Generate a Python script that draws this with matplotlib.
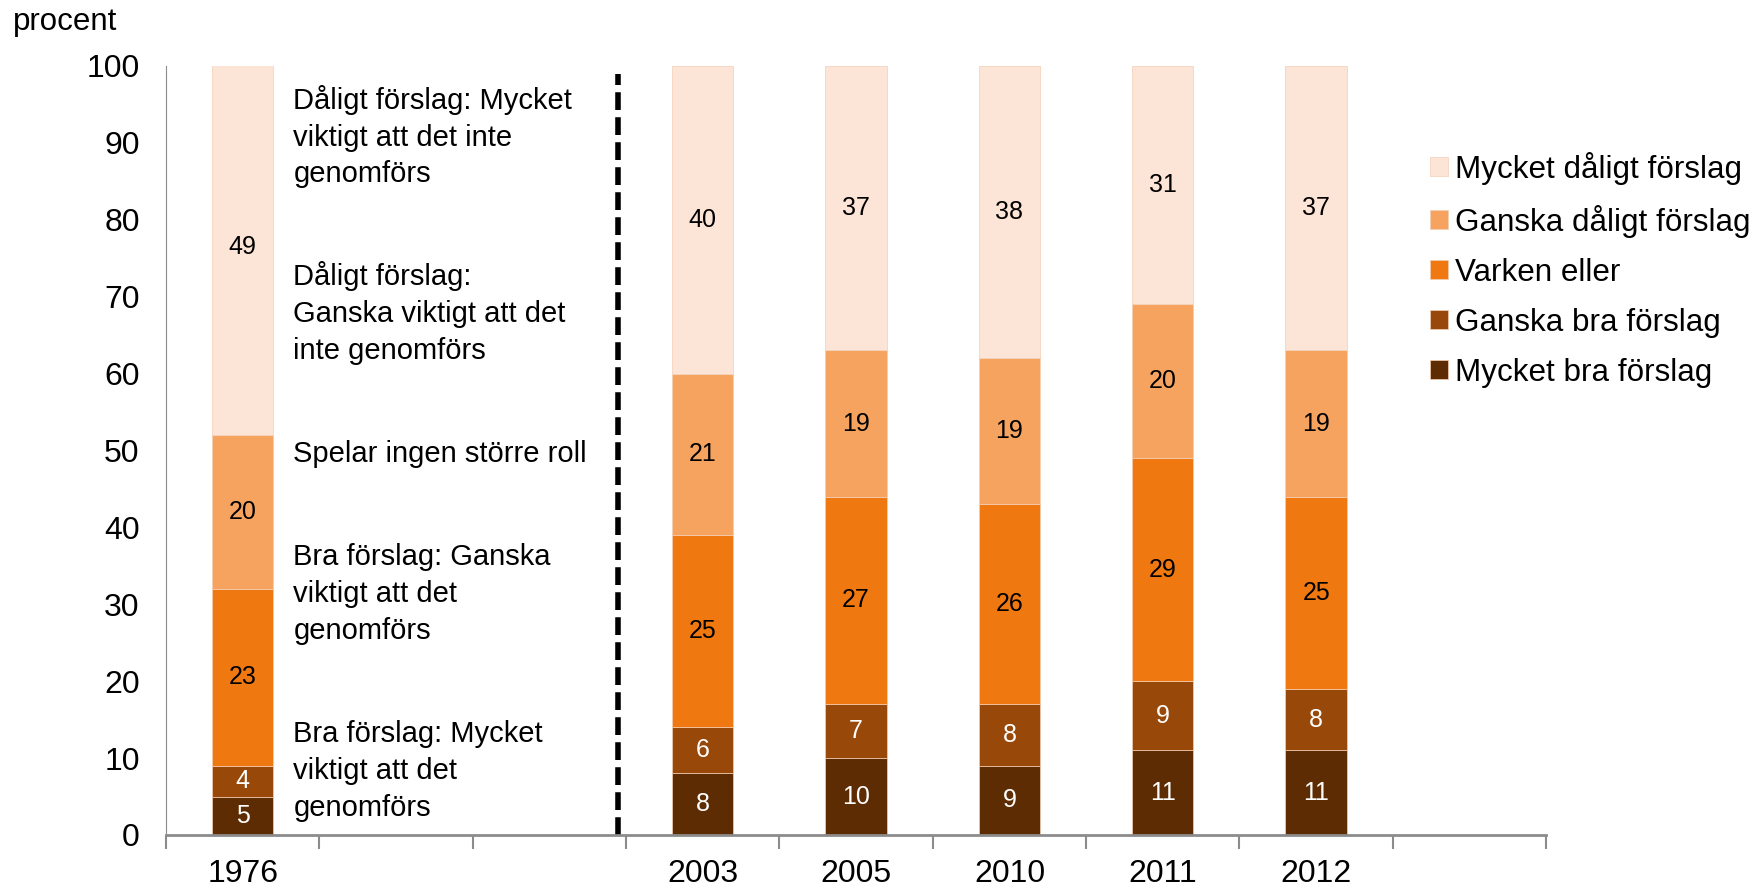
import numpy as np
import matplotlib
matplotlib.use('Agg')
import matplotlib.pyplot as plt

plt.rcParams['font.family'] = ['Liberation Sans', 'DejaVu Sans']

# categories (empty slots keep the gaps of the original)
slots = ['1976', '', '', '2003', '2005', '2010', '2011', '2012', '']
years = ['1976', '2003', '2005', '2010', '2011', '2012']
series = ['Mycket bra förslag', 'Ganska bra förslag', 'Varken eller',
          'Ganska dåligt förslag', 'Mycket dåligt förslag']
mycket_bra = [5, 8, 10, 9, 11, 11]
ganska_bra = [4, 6, 7, 8, 9, 8]
varken = [23, 25, 27, 26, 29, 25]
ganska_daligt = [20, 21, 19, 19, 20, 19]
mycket_daligt = [49, 40, 37, 38, 31, 37]
colors = ['#5e2c02', '#984808', '#f07810', '#f5a35f', '#fce4d6']
txtcol = ['white', 'white', 'black', 'black', 'black']

notes = ['Dåligt förslag: Mycket\nviktigt att det inte\ngenomförs',
         'Dåligt förslag:\nGanska viktigt att det\ninte genomförs',
         'Spelar ingen större roll',
         'Bra förslag: Ganska\nviktigt att det\ngenomförs',
         'Bra förslag: Mycket\nviktigt att det\ngenomförs']
note_y = [90.8, 67.9, 49.6, 31.3, 8.3]

fig = plt.figure(figsize=(17.57, 8.86), dpi=100)
ax = fig.add_axes([0.0945, 0.0576, 0.7855, 0.868])

x = np.array([slots.index(y) for y in years])
data = [mycket_bra, ganska_bra, varken, ganska_daligt, mycket_daligt]
bottom = np.zeros(len(years))
handles = []
for vals, name, c, tc in zip(data, series, colors, txtcol):
    vals = np.array(vals, dtype=float)
    b = ax.bar(x, vals, 0.4, bottom=bottom, color=c, edgecolor='#f3cfb5',
               linewidth=0.5, label=name)
    handles.append(b)
    for xi, v, b0 in zip(x, vals, bottom):
        ax.text(xi, b0 + v / 2, f'{int(v)}', ha='center', va='center',
                fontsize=18, color=tc)
    bottom += vals

for t, yy in zip(notes, note_y):
    ax.text(0.33, yy, t, ha='left', va='center', fontsize=21,
            linespacing=1.4)

ax.plot([2.45, 2.45], [0, 99], ls=(0, (3.2, 1.3)), color='black', lw=4)

ax.set_xlim(-0.5, len(slots) - 0.5)
ax.set_ylim(0, 100)
ax.set_yticks(range(0, 101, 10))
ax.tick_params(axis='y', length=0, labelsize=23, pad=19)
ax.set_xticks(range(len(slots)))
ax.set_xticklabels(slots)
ax.set_xticks(np.arange(-0.5, len(slots), 1), minor=True)
ax.tick_params(axis='x', which='major', length=0, labelsize=23, pad=17)
ax.tick_params(axis='x', which='minor', length=10, width=1.5, color='#8c8c8c')
for s in ['top', 'right']:
    ax.spines[s].set_visible(False)
ax.spines['left'].set_color('#8c8c8c')
ax.spines['bottom'].set_color('#8c8c8c')
ax.spines['bottom'].set_linewidth(2)

fig.text(0.0075, 0.975, 'procent', fontsize=22.5, va='center', ha='left')

leg = ax.legend(handles[::-1], series[::-1], loc='upper left',
                bbox_to_anchor=(0.907, 0.905), frameon=False, fontsize=22.6,
                handlelength=0.55, handleheight=0.55, handletextpad=0.22,
                labelspacing=0.64, borderaxespad=0)

fig.savefig('out.png', dpi=100)
